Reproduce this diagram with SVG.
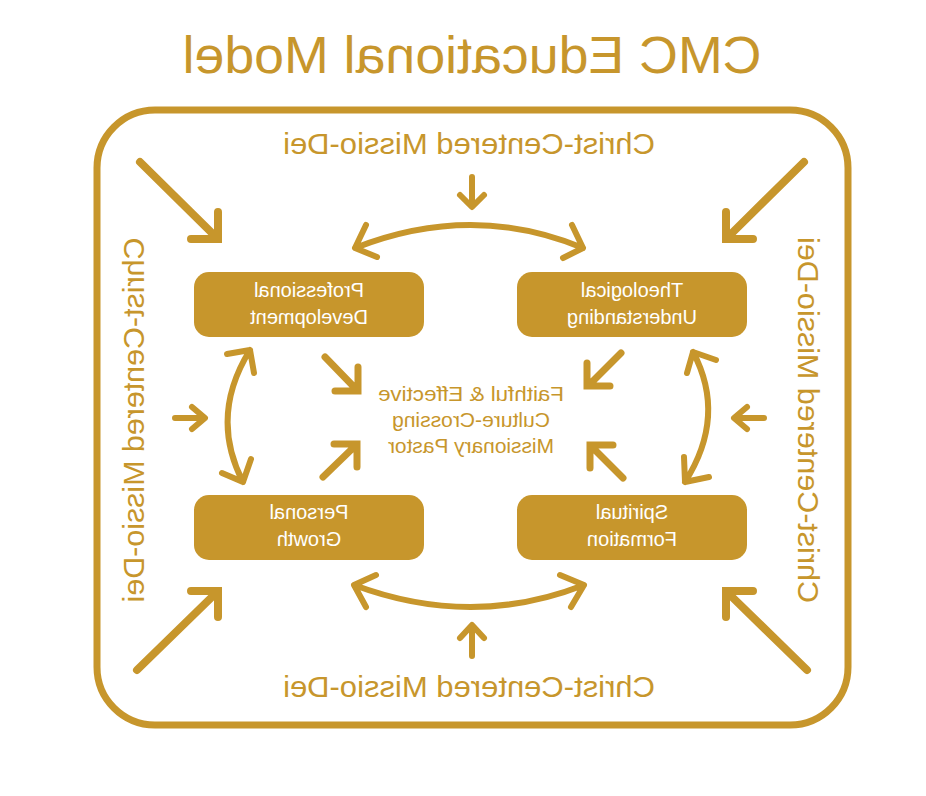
<svg xmlns="http://www.w3.org/2000/svg" width="926" height="796" viewBox="0 0 926 796">
<style>
.t{font-family:"Liberation Sans",Arial,sans-serif;fill:#C7962C;text-anchor:middle}
.w{font-family:"Liberation Sans",Arial,sans-serif;fill:#FFFFFF;text-anchor:middle;font-size:20px}
.box{fill:#C7962C}
.a{fill:none;stroke:#C7962C;stroke-linecap:round}
.big{stroke-width:8;stroke-linejoin:miter}
.mid{stroke-width:7;stroke-linejoin:miter}
.thin{stroke-width:6;stroke-linejoin:round}
</style>
<rect x="97" y="110" width="751" height="615" rx="58" fill="none" stroke="#C7962C" stroke-width="7"/>
<g id="title"><text class="t" font-size="52" transform="translate(472,73) scale(-1,1)" textLength="579" lengthAdjust="spacingAndGlyphs">CMC Educational Model</text></g>
<g id="label-top"><text class="t" font-size="30" transform="translate(469,154) scale(-1,1)" textLength="372" lengthAdjust="spacingAndGlyphs">Christ-Centered Missio-Dei</text></g>
<g id="label-bottom"><text class="t" font-size="30" transform="translate(469,697) scale(-1,1)" textLength="372" lengthAdjust="spacingAndGlyphs">Christ-Centered Missio-Dei</text></g>
<g id="label-left"><text class="t" font-size="30" x="0" y="10" transform="translate(134,420) rotate(90) scale(1,-1)" textLength="365" lengthAdjust="spacingAndGlyphs">Christ-Centered Missio-Dei</text></g>
<g id="label-right"><text class="t" font-size="30" x="0" y="10" transform="translate(808,420) rotate(-90) scale(1,-1)" textLength="366" lengthAdjust="spacingAndGlyphs">Christ-Centered Missio-Dei</text></g>
<g id="node-professional">
<rect class="box" x="194" y="272" width="230" height="65" rx="15"/>
<text class="w" transform="translate(309,297) scale(-1,1)">Professional</text>
<text class="w" transform="translate(309,324) scale(-1,1)">Development</text>
</g>
<g id="node-theological">
<rect class="box" x="517" y="272" width="230" height="65" rx="15"/>
<text class="w" transform="translate(632,297) scale(-1,1)">Theological</text>
<text class="w" transform="translate(632,324) scale(-1,1)">Understanding</text>
</g>
<g id="node-personal">
<rect class="box" x="194" y="495" width="230" height="65" rx="15"/>
<text class="w" transform="translate(309,519) scale(-1,1)">Personal</text>
<text class="w" transform="translate(309,546) scale(-1,1)">Growth</text>
</g>
<g id="node-spiritual">
<rect class="box" x="517" y="495" width="230" height="65" rx="15"/>
<text class="w" transform="translate(632,519) scale(-1,1)">Spiritual</text>
<text class="w" transform="translate(632,546) scale(-1,1)">Formation</text>
</g>
<g id="node-center">
<text class="t" font-size="21" transform="translate(471,401) scale(-1,1)" textLength="186" lengthAdjust="spacingAndGlyphs">Faithful &amp; Effective</text>
<text class="t" font-size="21" transform="translate(471,427) scale(-1,1)" textLength="158" lengthAdjust="spacingAndGlyphs">Culture-Crossing</text>
<text class="t" font-size="21" transform="translate(471,453) scale(-1,1)" textLength="166" lengthAdjust="spacingAndGlyphs">Missionary Pastor</text>
</g>
<g id="connectors">
<path class="a big" d="M140 162 L216 237 M218 212 L218 239 L191 239"/>
<path class="a big" d="M804 162 L728 237 M726 212 L726 239 L753 239"/>
<path class="a big" d="M137 670 L216 593 M191 591 L218 591 L218 617"/>
<path class="a big" d="M807 670 L728 593 M753 591 L726 591 L726 617"/>
<path class="a mid" d="M325 357 L356 389 M358 367 L358 391 L335 391"/>
<path class="a mid" d="M621 353 L589 385 M587 363 L587 386 L610 386"/>
<path class="a mid" d="M323 477 L355 446 M334 444 L357 444 L357 467"/>
<path class="a mid" d="M623 478 L591 446 M613 445 L590 445 L590 468"/>
<path class="a thin" d="M472 177 L472 206 M460 195 L472 207 L484 195"/>
<path class="a thin" d="M472 656 L472 626 M460 638 L472 625 L484 638"/>
<path class="a thin" d="M175 418 L204 418 M192 407 L205 418 L192 429"/>
<path class="a thin" d="M764 418 L735 418 M747 407 L734 418 L747 429"/>
<path class="a thin" d="M355 248 Q472 202 583 248 M366 225 L355 248 L377 257 M572 225 L583 248 L563 258"/>
<path class="a thin" d="M354 585 Q472 629 584 585 M376 575 L354 585 L366 607 M560 575 L584 585 L571 607"/>
<path class="a thin" d="M250 350 Q209 416 243 482 M227 354 L250 350 L254 373 M222 473 L243 482 L251 459"/>
<path class="a thin" d="M693 352 Q727 416 685 482 M716 360 L693 352 L687 373 M709 477 L685 482 L684 457"/>
</g>
</svg>
